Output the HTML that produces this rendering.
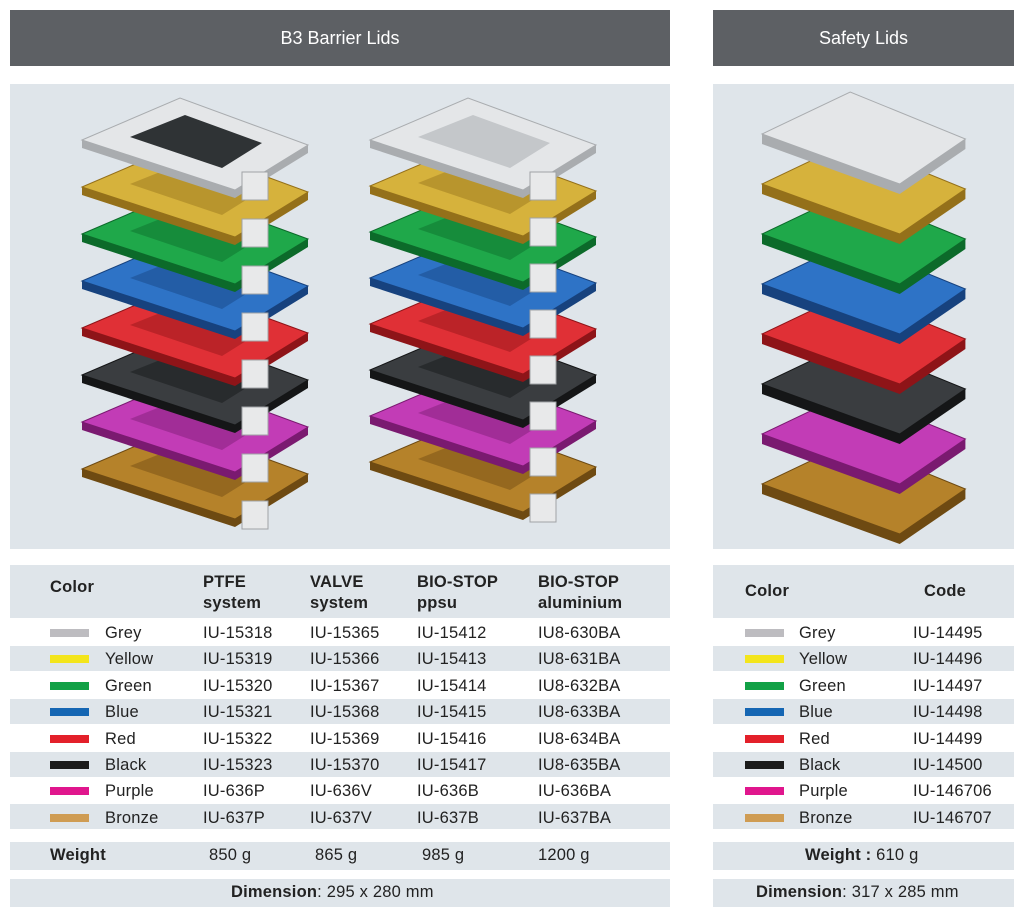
<!DOCTYPE html>
<html><head><meta charset="utf-8">
<style>
body{margin:0;width:1024px;height:915px;background:#fff;font-family:"Liberation Sans",sans-serif;position:relative;overflow:hidden;color:#222}
.abs{position:absolute}
.hdr{background:#5d6064;color:#fff;font-size:18px;text-align:center;line-height:56px}
.img{background:#dfe5ea}
.sh{background:#dfe5ea}
.t{position:absolute;font-size:16.5px;white-space:nowrap;letter-spacing:0.2px}
.b{font-weight:bold}
.sw{position:absolute;width:39px;height:8px}
</style></head><body>
<div class="abs hdr" style="left:10px;top:10px;width:660px;height:56px">B3 Barrier Lids</div>
<div class="abs hdr" style="left:713px;top:10px;width:301px;height:56px">Safety Lids</div>
<div class="abs img" style="left:10px;top:84px;width:660px;height:465px"></div>
<div class="abs img" style="left:713px;top:84px;width:301px;height:465px"></div>
<svg class="abs" style="left:0;top:0" width="1024" height="560" id="s"></svg>

<div class="abs sh" style="left:10px;top:565px;width:660px;height:53px"></div>
<div class="abs sh" style="left:713px;top:565px;width:301px;height:53px"></div>
<div id="rows"></div>
<div class="abs sh" style="left:10px;top:842px;width:660px;height:28px"></div>
<div class="abs sh" style="left:713px;top:842px;width:301px;height:28px"></div>
<div class="abs sh" style="left:10px;top:879px;width:660px;height:28px"></div>
<div class="abs sh" style="left:713px;top:879px;width:301px;height:28px"></div>

<div class="t b" style="left:50px;top:578px">Color</div>
<div class="t b" style="left:203px;top:572px;line-height:21px">PTFE<br>system</div>
<div class="t b" style="left:310px;top:572px;line-height:21px">VALVE<br>system</div>
<div class="t b" style="left:417px;top:572px;line-height:21px">BIO-STOP<br>ppsu</div>
<div class="t b" style="left:538px;top:572px;line-height:21px">BIO-STOP<br>aluminium</div>
<div class="t b" style="left:745px;top:582px">Color</div>
<div class="t b" style="left:924px;top:582px">Code</div>

<div class="t b" style="left:50px;top:846px">Weight</div>
<div class="t" style="left:209px;top:846px">850 g</div>
<div class="t" style="left:315px;top:846px">865 g</div>
<div class="t" style="left:422px;top:846px">985 g</div>
<div class="t" style="left:538px;top:846px">1200 g</div>
<div class="t" style="left:805px;top:846px"><b>Weight :</b> 610 g</div>
<div class="t" style="left:231px;top:883px"><b>Dimension</b>: 295 x 280 mm</div>
<div class="t" style="left:756px;top:883px"><b>Dimension</b>: 317 x 285 mm</div>

<script>
var names=["Grey","Yellow","Green","Blue","Red","Black","Purple","Bronze"];
var sw=["#bdbcc0","#f3e51c","#12a146","#1566b3","#e3202a","#1b1b1b","#e0168d","#cf9c53"];
var c=[["IU-15318","IU-15365","IU-15412","IU8-630BA","IU-14495"],["IU-15319","IU-15366","IU-15413","IU8-631BA","IU-14496"],["IU-15320","IU-15367","IU-15414","IU8-632BA","IU-14497"],["IU-15321","IU-15368","IU-15415","IU8-633BA","IU-14498"],["IU-15322","IU-15369","IU-15416","IU8-634BA","IU-14499"],["IU-15323","IU-15370","IU-15417","IU8-635BA","IU-14500"],["IU-636P","IU-636V","IU-636B","IU-636BA","IU-146706"],["IU-637P","IU-637V","IU-637B","IU-637BA","IU-146707"]];
var h="";
for(var i=0;i<8;i++){var y=620+i*26.4;
 if(i%2==1){h+='<div class="abs sh" style="left:10px;top:'+(y-0.5)+'px;width:660px;height:25px"></div><div class="abs sh" style="left:713px;top:'+(y-0.5)+'px;width:301px;height:25px"></div>';}
 h+='<div class="sw" style="left:50px;top:'+(y+9)+'px;background:'+sw[i]+'"></div><div class="t" style="left:105px;top:'+(y+4)+'px">'+names[i]+'</div>';
 var xs=[203,310,417,538];for(var k=0;k<4;k++)h+='<div class="t" style="left:'+xs[k]+'px;top:'+(y+4)+'px">'+c[i][k]+'</div>';
 h+='<div class="sw" style="left:745px;top:'+(y+9)+'px;background:'+sw[i]+'"></div><div class="t" style="left:799px;top:'+(y+4)+'px">'+names[i]+'</div><div class="t" style="left:913px;top:'+(y+4)+'px">'+c[i][4]+'</div>';
}
document.getElementById("rows").innerHTML=h;
var lc=[["#e4e6e8","#a9acaf"],["#d6b23c","#94701a"],["#1fa84a","#0c6a2a"],["#2e73c6","#17427e"],["#e03036","#8e1418"],["#3a3d40","#151617"],["#c23cb6","#7a1a70"],["#b5822a","#6e4a12"]];
var s="";
function lid(ox,oy,i,inner,sc,th){
 var col=lc[i];
 function p(x,y){return (ox+(x-82)*sc)+","+(oy+(y-98))}
 s+='<polygon points="'+p(82,140)+' '+p(82,140+th)+' '+p(235,190+th)+' '+p(308,145+th)+' '+p(308,145)+' '+p(235,190)+'" fill="'+col[1]+'"/>';
 s+='<polygon points="'+p(82,140)+' '+p(180,98)+' '+p(308,145)+' '+p(235,190)+'" fill="'+col[0]+'" stroke="'+col[1]+'" stroke-width="1"/>';
 if(inner)s+='<polygon points="'+p(130,137)+' '+p(185,115)+' '+p(262,143)+' '+p(222,168)+'" fill="'+(i==0&&inner==1?"#2f3335":(i==0?"#c4c7ca":col[1]))+'" opacity="'+(i==0?1:0.45)+'"/>';
 if(inner)s+='<rect x="'+(ox+(242-82)*sc)+'" y="'+(oy+74)+'" width="26" height="28" fill="#e8e9ea" stroke="#a0a3a6"/>';
}
for(var i=7;i>=0;i--){lid(82,98+i*47,i,1,1,8);lid(370,98+i*46,i,2,1,8);lid(762,92+i*50,i,0,0.9,10);}
document.getElementById("s").innerHTML=s;
</script>
</body></html>
